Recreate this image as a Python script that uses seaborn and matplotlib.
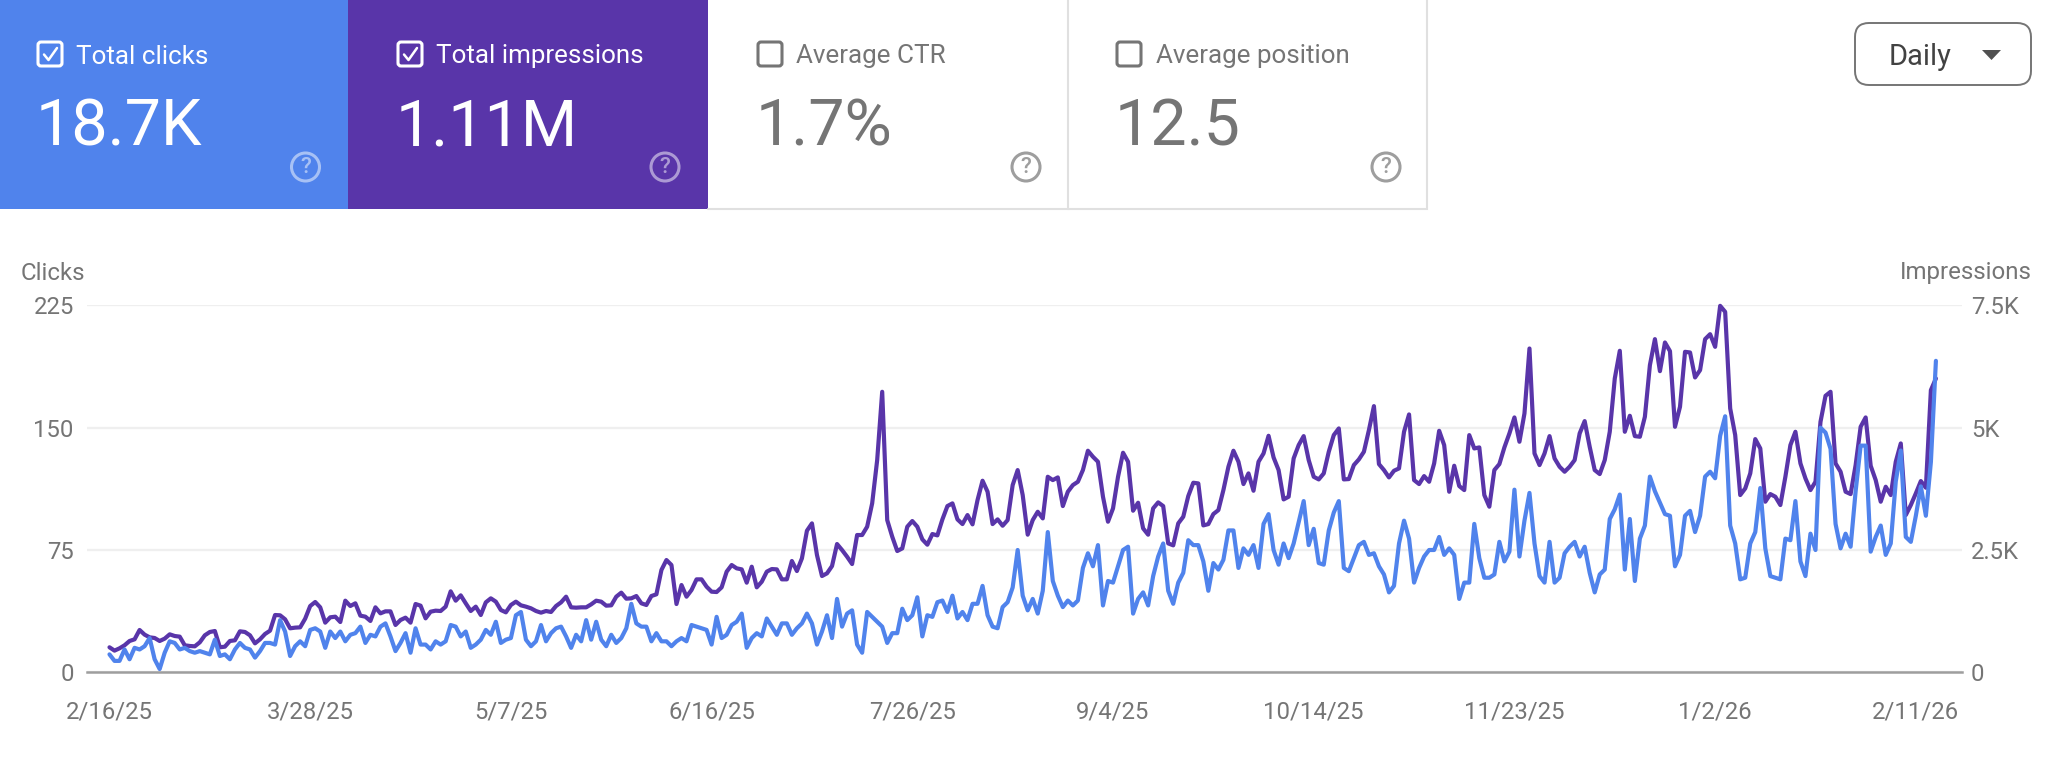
#!/usr/bin/env python3
"""Search performance chart: clicks and impressions per day, with the metric tiles above."""
import pandas as pd
import matplotlib
matplotlib.use("Agg")
import matplotlib.pyplot as plt
from matplotlib.patches import Rectangle, FancyBboxPatch, Circle, Polygon
import seaborn as sns

# ── Data ────────────────────────────────────────────────────────────────────────
clicks = [
    11, 7, 7, 14, 8, 15, 14, 16, 21, 8, 2, 12, 19, 18, 14, 15, 13, 12, 13, 12, 11, 20, 10, 11, 8,
    14, 18, 15, 14, 9, 13, 18, 18, 17, 32, 25, 10, 16, 19, 16, 26, 27, 25, 15, 25, 21, 25, 19, 23, 24,
    28, 18, 23,
    22, 28, 30, 22, 13, 18, 24, 12, 27, 17, 17, 14, 19, 17, 19, 29, 28, 22, 25, 15, 17, 20, 26, 23, 31,
    18, 20, 21, 35, 37, 20, 16, 19, 29, 19, 24, 27, 28, 22, 15, 23, 19, 32, 20, 31, 20, 16, 23, 18, 21, 27,
    42, 30, 28, 28, 19, 24, 19, 19, 16, 19, 21, 19, 29, 28, 27, 26, 17, 34, 21, 23, 29, 31, 36, 15, 21,
    24, 22, 33, 28, 23, 30, 30, 23, 27, 30, 36, 30, 17, 25, 35, 21, 45, 28, 36, 38, 17, 12, 37, 34,
    31, 28,
    18, 24, 24, 39, 32, 35, 46, 22, 35, 34, 43, 44, 37, 47, 33, 37, 32, 42, 42, 53, 35, 28, 27, 40, 43,
    52, 75, 47, 38, 45, 36, 50, 86, 56, 47, 40, 44, 41, 44, 64, 73, 65, 78, 41, 56, 55, 65, 75, 77,
    36, 45, 49, 41, 59, 71, 79, 50, 42, 55, 61, 81, 78, 78, 68, 50, 67, 63, 69, 87, 87, 64, 76, 72, 78,
    64, 91, 97, 75, 66, 79, 70, 79, 92, 105, 78, 88, 67, 66, 87, 98, 105, 64, 62, 70, 78, 80, 72, 73, 65,
    60, 49,
    53, 79, 93, 82, 55, 64, 71, 75, 75, 83, 72, 76, 72, 45, 55, 55, 91, 70, 58, 58, 60, 80, 68, 74, 112,
    71, 93, 110, 79, 59, 55, 80, 55, 58, 73, 77, 80, 71, 77, 61, 49, 60, 63, 94, 100, 109, 63, 94, 56, 82,
    90, 120,
    111, 104, 97, 96, 65, 72, 96, 99, 86, 96, 120, 123, 119, 145, 157, 90, 79, 57, 58, 79, 86, 113, 76, 59, 58,
    57, 82, 81, 105, 68, 59, 85, 75, 150, 147, 137, 91, 76, 85, 77, 111, 139, 139, 74, 83, 90, 72, 79, 117, 136,
    83, 80, 96, 114, 96, 129, 191,
]
impressions = [
    511, 443, 490, 552, 640, 674, 865, 770, 715, 701, 640, 688, 776, 742, 729, 552, 538, 531, 613, 756,
    824, 844, 511, 524, 640, 654, 838, 824, 756, 592, 674, 783, 851, 1171, 1165, 1083, 899, 913, 919, 1096,
    1355, 1437, 1328, 1015, 1124, 1137, 1028, 1464, 1355, 1410, 1158, 1137, 1049,
    1328, 1205, 1246, 1246, 967, 1069, 1117, 1015, 1396, 1362, 1103, 1239, 1260, 1253, 1342, 1655, 1464, 1573,
    1410, 1253, 1342, 1171, 1430, 1512, 1444, 1273, 1226, 1376, 1444, 1369, 1342, 1308, 1253, 1219, 1253, 1233,
    1355, 1430, 1546, 1328, 1321, 1328, 1328, 1389, 1464, 1444, 1362, 1369, 1546, 1628, 1505,
    1512, 1559, 1410, 1376, 1559, 1594, 2091, 2295, 2193, 1396, 1784, 1546, 1682, 1900, 1900, 1750, 1648, 1641,
    1737, 2057, 2193, 2125, 2104, 1832, 2159, 1737, 1852, 2057, 2111, 2104, 1900, 1900, 2275, 2070, 2329, 2894,
    3044, 2397, 1968, 2023, 2172, 2622, 2499, 2363, 2213, 2806, 2806, 2976, 3453,
    4338, 5734, 3112, 2772, 2479, 2533, 2976, 3092, 2976, 2717, 2608, 2826, 2799, 3126, 3398, 3453, 3126, 3030,
    3214, 3024, 3521, 3916, 3691, 3030, 3126, 2996, 3112, 3827, 4134, 3623, 2813, 3112, 3282, 3146, 3997, 3929,
    3984, 3398, 3691, 3827, 3895, 4134, 4529, 4406, 4304, 3589, 3078, 3350, 3997, 4488, 4304,
    3303, 3466, 2942, 2813, 3351, 3473, 3398, 2635, 2595, 3044, 3180, 3603, 3875, 3861, 3003, 3030, 3235, 3316,
    3725, 4202, 4529, 4304, 3848, 4066, 3711, 4304, 4474, 4835, 4392, 4134, 3534, 3589, 4372, 4644, 4828, 4338,
    3997, 3943, 4066, 4508, 4849, 4985, 3943, 3950, 4236, 4352, 4508, 4951, 5441, 4256, 4134, 3984,
    4120, 4168, 4917, 5271, 3929, 3848, 4011, 3895, 4270, 4937, 4644, 3691, 4222, 3807, 3725, 4849, 4576, 4597,
    3623, 3385, 4134, 4256, 4597, 4883, 5210, 4713, 5291, 6619, 4474, 4236, 4474, 4828, 4372, 4202, 4100, 4202,
    4338, 4883, 5135, 4610, 4134, 4052, 4338, 4917, 6006, 6572, 4917, 5244, 4828, 4815, 5223, 6279,
    6810, 6156, 6742, 6565, 5019, 5428, 6551, 6538, 6027, 6177, 6810, 6912, 6653, 7491, 7368, 5394, 4849, 3623,
    3759, 4066, 4767, 4576, 3487, 3643, 3589, 3419, 3997, 4644, 4917, 4270, 3963, 3725, 3895, 5121, 5652, 5734,
    4270, 4100, 3691, 3643, 4236, 5019, 5210, 4222, 3929, 3487, 3793, 3623, 4304, 4678, 3214, 3419, 3657, 3909,
    3773, 5768, 6006,
]
tick_labels = ["2/16/25", "3/28/25", "5/7/25", "6/16/25", "7/26/25", "9/4/25",
               "10/14/25", "11/23/25", "1/2/26", "2/11/26"]
click_ticks = [0, 75, 150, 225]
click_labels = ["0", "75", "150", "225"]
impression_ticks = [0, 2500, 5000, 7500]
impression_labels = ["0", "2.5K", "5K", "7.5K"]

tile_names = ["Total clicks", "Total impressions", "Average CTR", "Average position"]
tile_values = ["18.7K", "1.11M", "1.7%", "12.5"]

BLUE = "#5083EC"
PURPLE = "#5935A9"
GRAY = "#757575"
W, H = 2058, 774

df = pd.DataFrame({
    "date": pd.date_range("2025-02-16", periods=len(clicks), freq="D"),
    "clicks": clicks,
    "impressions": impressions,
})

sns.set_theme(style="white")
plt.rcParams["font.family"] = ["Roboto", "DejaVu Sans"]

fig = plt.figure(figsize=(W / 100, H / 100), dpi=100, facecolor="white")


def px_box(x0, x1, y_top, y_bottom):
    return [x0 / W, 1 - y_bottom / H, (x1 - x0) / W, (y_bottom - y_top) / H]


# ── Chart ───────────────────────────────────────────────────────────────────────
ax_imp = fig.add_axes(px_box(87, 1962, 305.4, 672.3))
sns.lineplot(data=df, x="date", y="impressions", color=PURPLE, linewidth=3.0, ax=ax_imp, clip_on=False)
ax_clicks = ax_imp.twinx()
sns.lineplot(data=df, x="date", y="clicks", color=BLUE, linewidth=3.0, ax=ax_clicks, clip_on=False)

day0 = df["date"].iloc[0]
ax_imp.set_xlim(day0 + pd.Timedelta(days=-4.48), day0 + pd.Timedelta(days=369.2))
ax_imp.set_ylim(0, 7500)
ax_clicks.set_ylim(0, 225)

ax_imp.set_xticks(df["date"].iloc[::40])
ax_imp.set_xticklabels(tick_labels)
ax_imp.set_yticks(impression_ticks)
ax_imp.set_yticklabels(impression_labels)
ax_clicks.set_yticks(click_ticks)
ax_clicks.set_yticklabels(click_labels)
ax_imp.yaxis.tick_right()
ax_clicks.yaxis.tick_left()
ax_imp.set_xlabel("")
ax_imp.set_ylabel("")
ax_clicks.set_ylabel("")

ax_imp.tick_params(axis="x", length=0, pad=20.5, labelsize=17.2, labelcolor=GRAY)
ax_imp.tick_params(axis="y", length=0, pad=6.5, labelsize=17.2, labelcolor=GRAY)
ax_clicks.tick_params(axis="y", length=0, pad=9.5, labelsize=17.2, labelcolor=GRAY)

ax_imp.grid(axis="y", color="#EFEFEF", linewidth=1.7)
ax_imp.set_axisbelow(True)
for a in (ax_imp, ax_clicks):
    for side in ("top", "left", "right", "bottom"):
        a.spines[side].set_visible(False)
ax_imp.spines["bottom"].set_visible(True)
ax_imp.spines["bottom"].set_color("#9E9E9E")
ax_imp.spines["bottom"].set_linewidth(1.8)

# ── Tiles, titles, dropdown (drawn in pixel coordinates) ────────────────────────
ov = fig.add_axes([0, 0, 1, 1], zorder=5)
ov.set_xlim(0, W)
ov.set_ylim(H, 0)
ov.axis("off")

tile_edges = [0, 348, 708, 1068, 1427]
tile_fill = [BLUE, PURPLE, "white", "white"]
box_x = [37, 397, 757, 1116]
name_x = [76, 436, 796, 1156]
value_x = [36, 396, 756, 1115]
help_x = [305.5, 665, 1026, 1386]

for i in range(4):
    on = i < 2
    ink = "white" if on else GRAY
    x0, x1 = tile_edges[i], tile_edges[i + 1]
    if on:
        ov.add_patch(Rectangle((x0, 0), x1 - x0, 209, facecolor=tile_fill[i], edgecolor="none"))
    else:
        ov.plot([x0, x1, x1], [209, 209, -2], color="#E0E0E0", lw=1.5, solid_joinstyle="miter")
    # checkbox
    ov.add_patch(FancyBboxPatch((box_x[i] + 1, 42), 24, 24, boxstyle="round,pad=0,rounding_size=3",
                                facecolor="none", edgecolor=ink, lw=2.2))
    if on:
        ov.plot([box_x[i] + 7, box_x[i] + 11.5, box_x[i] + 20], [54.5, 60, 48], color=ink, lw=1.8)
    ov.text(name_x[i], 56.5, tile_names[i], color=ink, fontsize=18.7, va="center", ha="left")
    ov.text(value_x[i], 145, tile_values[i], color=ink, fontsize=46.5, va="baseline", ha="left")
    # help icon
    ov.add_patch(Circle((help_x[i], 167), 14, facecolor="none", edgecolor=ink, lw=2.2,
                        alpha=0.5 if on else 0.7))
    ov.text(help_x[i], 167.5, "?", color=ink, alpha=0.5 if on else 0.7, fontsize=16,
            fontweight="medium", ha="center", va="center")

ov.text(21, 273, "Clicks", color=GRAY, fontsize=17.3, ha="left", va="center")
ov.text(2032, 273, "Impressions", color=GRAY, fontsize=17.3, ha="right", va="center")

ov.add_patch(FancyBboxPatch((1855, 23), 176, 62, boxstyle="round,pad=0,rounding_size=14",
                            facecolor="white", edgecolor=GRAY, lw=1.4))
ov.text(1889, 57, "Daily", color="#424242", fontsize=21, ha="left", va="center")
ov.add_patch(Polygon([[1982, 50], [2001, 50], [1991.5, 60]], closed=True, facecolor="#505050", edgecolor="none"))

plt.savefig("out.png", dpi=100)
plt.close(fig)
